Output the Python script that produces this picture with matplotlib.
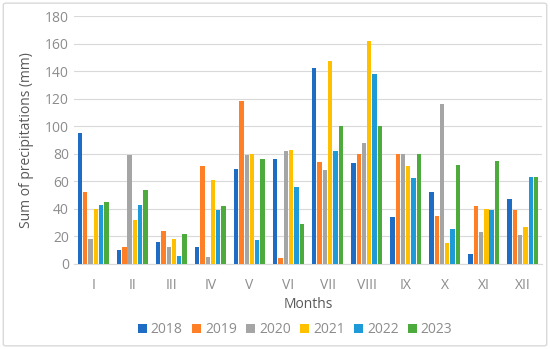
import matplotlib

matplotlib.use("Agg")
import matplotlib.pyplot as plt  # noqa: E402
import numpy as np  # noqa: E402
from matplotlib.patches import FancyBboxPatch  # noqa: E402

months = ["I", "II", "III", "IV", "V", "VI", "VII", "VIII", "IX", "X", "XI", "XII"]
years = ["2018", "2019", "2020", "2021", "2022", "2023"]
p2018 = [95, 10, 16, 12, 69, 76, 142, 73, 34, 52, 7, 47]
p2019 = [52, 12, 24, 71, 118, 4, 74, 80, 80, 35, 42, 39]
p2020 = [18, 79, 12, 5, 79, 82, 68, 88, 80, 116, 23, 21]
p2021 = [40, 32, 18, 61, 80, 83, 147, 162, 71, 15, 40, 27]
p2022 = [43, 43, 6, 39, 17, 56, 82, 138, 62, 25, 39, 63]
p2023 = [45, 54, 22, 42, 76, 29, 100, 100, 80, 72, 75, 63]
series = [p2018, p2019, p2020, p2021, p2022, p2023]
colors = ["#1F6CC4", "#FF7F27", "#A5A5A5", "#FFC000", "#1E9AD8", "#4DAA3C"]

plt.rcParams["font.family"] = ["Open Sans", "DejaVu Sans"]
tick_c = "#8C8C8C"
title_c = "#595959"

fig = plt.figure(figsize=(5.5, 3.49), dpi=100)
fig.patches.append(FancyBboxPatch((0.006, 0.009), 0.988, 0.982,
                                  boxstyle="round,pad=0,rounding_size=0.005",
                                  transform=fig.transFigure, fill=False,
                                  ec="#D9D9D9", lw=1.0))
ax = fig.add_axes([0.134, 0.244, 0.852, 0.71])

x = np.arange(len(months))
step = 0.135
width = 0.11
for i, (vals, yr, c) in enumerate(zip(series, years, colors)):
    ax.bar(x + (i - 2.5) * step, vals, width, color=c, label=yr, zorder=3)

ax.set_xlim(-0.5, len(months) - 0.5)
ax.set_ylim(0, 180)
ax.set_yticks(np.arange(0, 181, 20))
ax.set_xticks(x)
ax.set_xticklabels(months)
ax.grid(axis="y", color="#D9D9D9", lw=0.8, zorder=0)
for s in ["top", "right", "left"]:
    ax.spines[s].set_visible(False)
ax.spines["bottom"].set_color("#D9D9D9")
ax.tick_params(length=0, colors=tick_c, labelsize=10)
ax.tick_params(axis="x", pad=10)
ax.set_xlabel("Months", color=title_c, fontsize=10, labelpad=3)
ax.set_ylabel("Sum of precipitations (mm)", color=title_c, fontsize=10, labelpad=8)

ax.legend(loc="upper center", bbox_to_anchor=(0.473, -0.185), ncol=6, frameon=False,
          fontsize=10, handlelength=0.6, handleheight=0.6, handletextpad=0.3,
          columnspacing=0.7, labelcolor=tick_c)

fig.savefig("out.png", dpi=100)
plt.close(fig)
